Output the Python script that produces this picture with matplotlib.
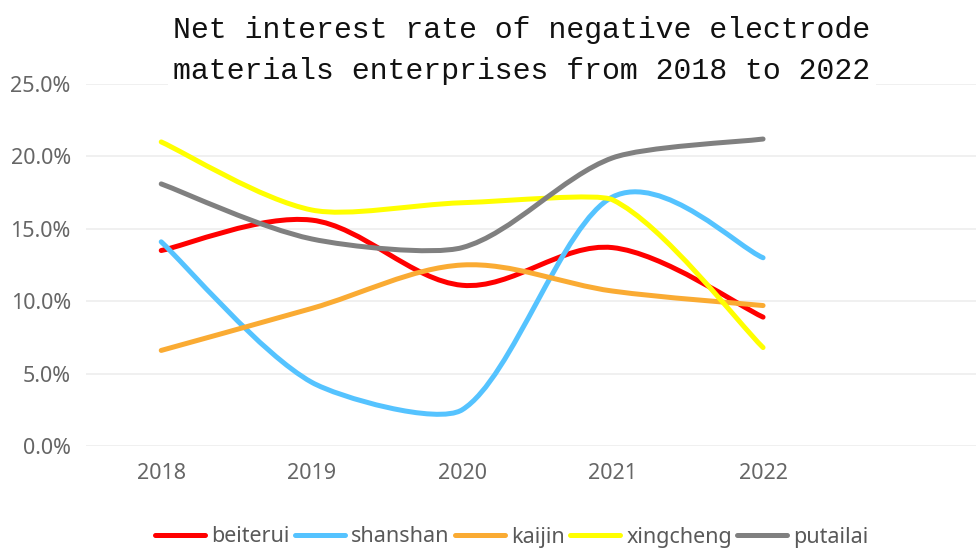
import matplotlib
matplotlib.use("Agg")
import matplotlib.pyplot as plt
import numpy as np
from matplotlib.path import Path
from matplotlib.patches import PathPatch
from matplotlib.lines import Line2D
from matplotlib.ticker import FuncFormatter

years = ["2018", "2019", "2020", "2021", "2022"]
beiterui = [13.5, 15.6, 11.1, 13.7, 8.9]
shanshan = [14.1, 4.4, 2.5, 17.2, 13.0]
kaijin = [6.6, 9.5, 12.5, 10.7, 9.7]
xingcheng = [21.0, 16.3, 16.8, 17.0, 6.8]
putailai = [18.1, 14.3, 13.7, 19.9, 21.2]

series = [
    ("beiterui", beiterui, "#FF0000"),
    ("shanshan", shanshan, "#55C3FF"),
    ("kaijin", kaijin, "#FAAB33"),
    ("xingcheng", xingcheng, "#FFFF00"),
    ("putailai", putailai, "#808080"),
]

title = "Net interest rate of negative electrode\nmaterials enterprises from 2018 to 2022"

W, H = 976, 549
fig = plt.figure(figsize=(W / 100, H / 100), dpi=100)
ax = fig.add_axes([86 / W, 1 - 446 / H, 1 - 86 / W, (446 - 84) / H])


def smooth_path(xs, ys):
    """Spreadsheet-style smoothed line: cubic Bezier between the points."""
    pts = np.column_stack([xs, ys]).astype(float)
    n = len(pts)
    verts = [pts[0]]
    codes = [Path.MOVETO]
    for i in range(n - 1):
        p0 = pts[i - 1] if i > 0 else pts[i]
        p1 = pts[i]
        p2 = pts[i + 1]
        p3 = pts[i + 2] if i + 2 < n else pts[i + 1]
        d12 = np.hypot(*(p2 - p1))
        d02 = np.hypot(*(p2 - p0))
        d13 = np.hypot(*(p3 - p1))
        f1 = 1 / 6 if d02 / 6 < d12 / 2 else d12 / d02 / 2
        f2 = 1 / 6 if d13 / 6 < d12 / 2 else d12 / d13 / 2
        c1 = p1 + (p2 - p0) * f1
        c2 = p2 - (p3 - p1) * f2
        verts += [c1, c2, p2]
        codes += [Path.CURVE4] * 3
    return Path(verts, codes)


x = np.arange(len(years))
handles = []
for name, vals, col in series:
    p = smooth_path(x, vals)
    patch = PathPatch(p, facecolor="none", edgecolor=col, lw=3.6,
                      capstyle="round", joinstyle="round", zorder=3)
    ax.add_patch(patch)
    handles.append(Line2D([0], [0], color=col, lw=3.6, solid_capstyle="round", label=name))

ax.set_xlim(-0.5, (W - 161) / 150.5)
ax.set_ylim(0, 25)
ax.set_xticks(x)
ax.set_xticklabels(years)
ax.set_yticks(np.arange(0, 25.01, 5))
ax.yaxis.set_major_formatter(FuncFormatter(lambda v, _: f"{v:.1f}%"))
ax.grid(axis="y", color="#EDEDED", lw=1.2, zorder=0)
for s in ax.spines.values():
    s.set_visible(False)
ax.tick_params(length=0, labelsize=15.5, labelcolor="#666666")
ax.tick_params(axis="y", pad=11)
ax.tick_params(axis="x", pad=12)
for lab in ax.get_xticklabels() + ax.get_yticklabels():
    lab.set_fontfamily("Noto Sans")

fig.text(522 / W, 1 - 16 / H, title, ha="center", va="top", family="Liberation Mono",
         fontsize=21.5, color="#111111", linespacing=1.6,
         bbox=dict(facecolor="white", edgecolor="none", pad=4))

leg = fig.legend(handles=handles, loc="center", bbox_to_anchor=(512 / W, 1 - 537 / H),
                 ncol=5, frameon=False, handlelength=2.3, handletextpad=0.3,
                 columnspacing=0.25, prop={"family": "Noto Sans", "size": 15.5})
for t in leg.get_texts():
    t.set_color("#595959")

fig.savefig("out.png", dpi=100)
